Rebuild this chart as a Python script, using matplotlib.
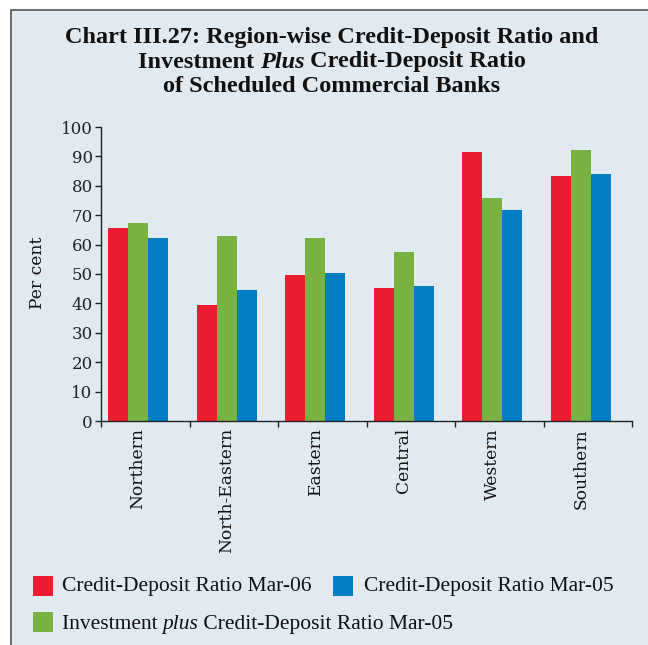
import matplotlib
matplotlib.use("Agg")
import matplotlib.pyplot as plt
import numpy as np
from matplotlib.patches import Rectangle

regions = ["Northern", "North-Eastern", "Eastern", "Central", "Western", "Southern"]
cd_mar06 = [65.5, 39.4, 49.7, 45.1, 91.4, 83.4]
inv_cd_mar05 = [67.4, 62.8, 62.4, 57.5, 75.9, 92.1]
cd_mar05 = [62.3, 44.7, 50.3, 45.8, 71.8, 83.9]
yticks = [0, 10, 20, 30, 40, 50, 60, 70, 80, 90, 100]

RED = "#ED1C2E"
GREEN = "#79B143"
BLUE = "#007DC5"
BG = "#E1E9F1"

W, H = 648, 645
fig = plt.figure(figsize=(W / 100, H / 100), dpi=100)
fig.patch.set_facecolor("white")

# panel background with border (top and left visible)
panel = Rectangle((11 / W, -0.05), 1.2, 1 - 10 / H + 0.05, transform=fig.transFigure,
                  facecolor=BG, edgecolor="#555555", linewidth=1.2, zorder=0)
fig.add_artist(panel)

ax = fig.add_axes([101 / W, 1 - 421 / H, (632 - 101) / W, (421 - 127) / H])
ax.set_facecolor("none")

x = np.arange(len(regions))
bw = 0.226
shift = -0.08
ax.bar(x + shift - bw, cd_mar06, width=bw, color=RED, zorder=2)
ax.bar(x + shift, inv_cd_mar05, width=bw, color=GREEN, zorder=2)
ax.bar(x + shift + bw, cd_mar05, width=bw, color=BLUE, zorder=2)

ax.set_xlim(-0.5, len(regions) - 0.5)
ax.set_ylim(0, 100)
ax.set_yticks(yticks)
ax.set_yticklabels([str(v) for v in yticks], fontfamily="DejaVu Serif", fontsize=12, color="#222222")
ax.tick_params(axis="y", direction="out", length=4, width=1, pad=2, color="#222222")

ax.set_xticks(x + shift)
ax.set_xticklabels(regions, rotation=90, fontfamily="DejaVu Serif", fontsize=12.3, color="#111111", va="top")
ax.tick_params(axis="x", which="major", length=0, pad=5)
ax.set_xticks(np.arange(-0.5, len(regions), 1.0), minor=True)
ax.tick_params(axis="x", which="minor", direction="out", length=4, width=1, color="#222222")

for s in ["top", "right"]:
    ax.spines[s].set_visible(False)
for s in ["left", "bottom"]:
    ax.spines[s].set_color("#222222")
    ax.spines[s].set_linewidth(1.0)

fig.text(37.5 / W, 1 - 273 / H, "Per cent", rotation=90, fontfamily="DejaVu Serif",
         fontsize=12.3, color="#111111", ha="center", va="center")

renderer = fig.canvas.get_renderer()


def rich_line(pieces, x_px, y_base_px, ha="center", size=15):
    """pieces: list of (text, style, weight). Places pieces sequentially on a baseline."""
    texts = []
    widths = []
    for txt, style, weight in pieces:
        t = fig.text(0, 0, txt, fontfamily="Liberation Serif", fontsize=size,
                     fontstyle=style, fontweight=weight, color="#111111",
                     ha="left", va="baseline", transform=None)
        bb = t.get_window_extent(renderer)
        texts.append(t)
        widths.append(bb.width)
    total = sum(widths)
    start = x_px - total / 2 if ha == "center" else x_px
    cur = start
    for t, w in zip(texts, widths):
        t.set_position((cur, H - y_base_px))
        cur += w
    return texts


# Title
TS = 17.5
rich_line([("Chart III.27: Region-wise Credit-Deposit Ratio and", "normal", "bold")], 332, 43, size=TS)
rich_line([("Investment ", "normal", "bold"), ("Plus", "italic", "bold"),
           (" Credit-Deposit Ratio", "normal", "bold")], 332, 67.5, size=TS)
rich_line([("of Scheduled Commercial Banks", "normal", "bold")], 332, 91.5, size=TS)

# Legend
def patch(x0, y_top, color):
    r = Rectangle((x0 / W, 1 - (y_top + 20) / H), 20 / W, 20 / H,
                  transform=fig.transFigure, facecolor=color, edgecolor="none")
    fig.add_artist(r)

LS = 15.5
patch(33, 576, RED)
rich_line([("Credit-Deposit Ratio Mar-06", "normal", "normal")], 61.5, 591, ha="left", size=LS)
patch(333, 576, BLUE)
rich_line([("Credit-Deposit Ratio Mar-05", "normal", "normal")], 364, 591, ha="left", size=LS)
patch(33, 612, GREEN)
rich_line([("Investment ", "normal", "normal"), ("plus", "italic", "normal"),
           (" Credit-Deposit Ratio Mar-05", "normal", "normal")], 61.5, 629, ha="left", size=LS)

fig.savefig("out.png", dpi=100, facecolor=fig.get_facecolor())
